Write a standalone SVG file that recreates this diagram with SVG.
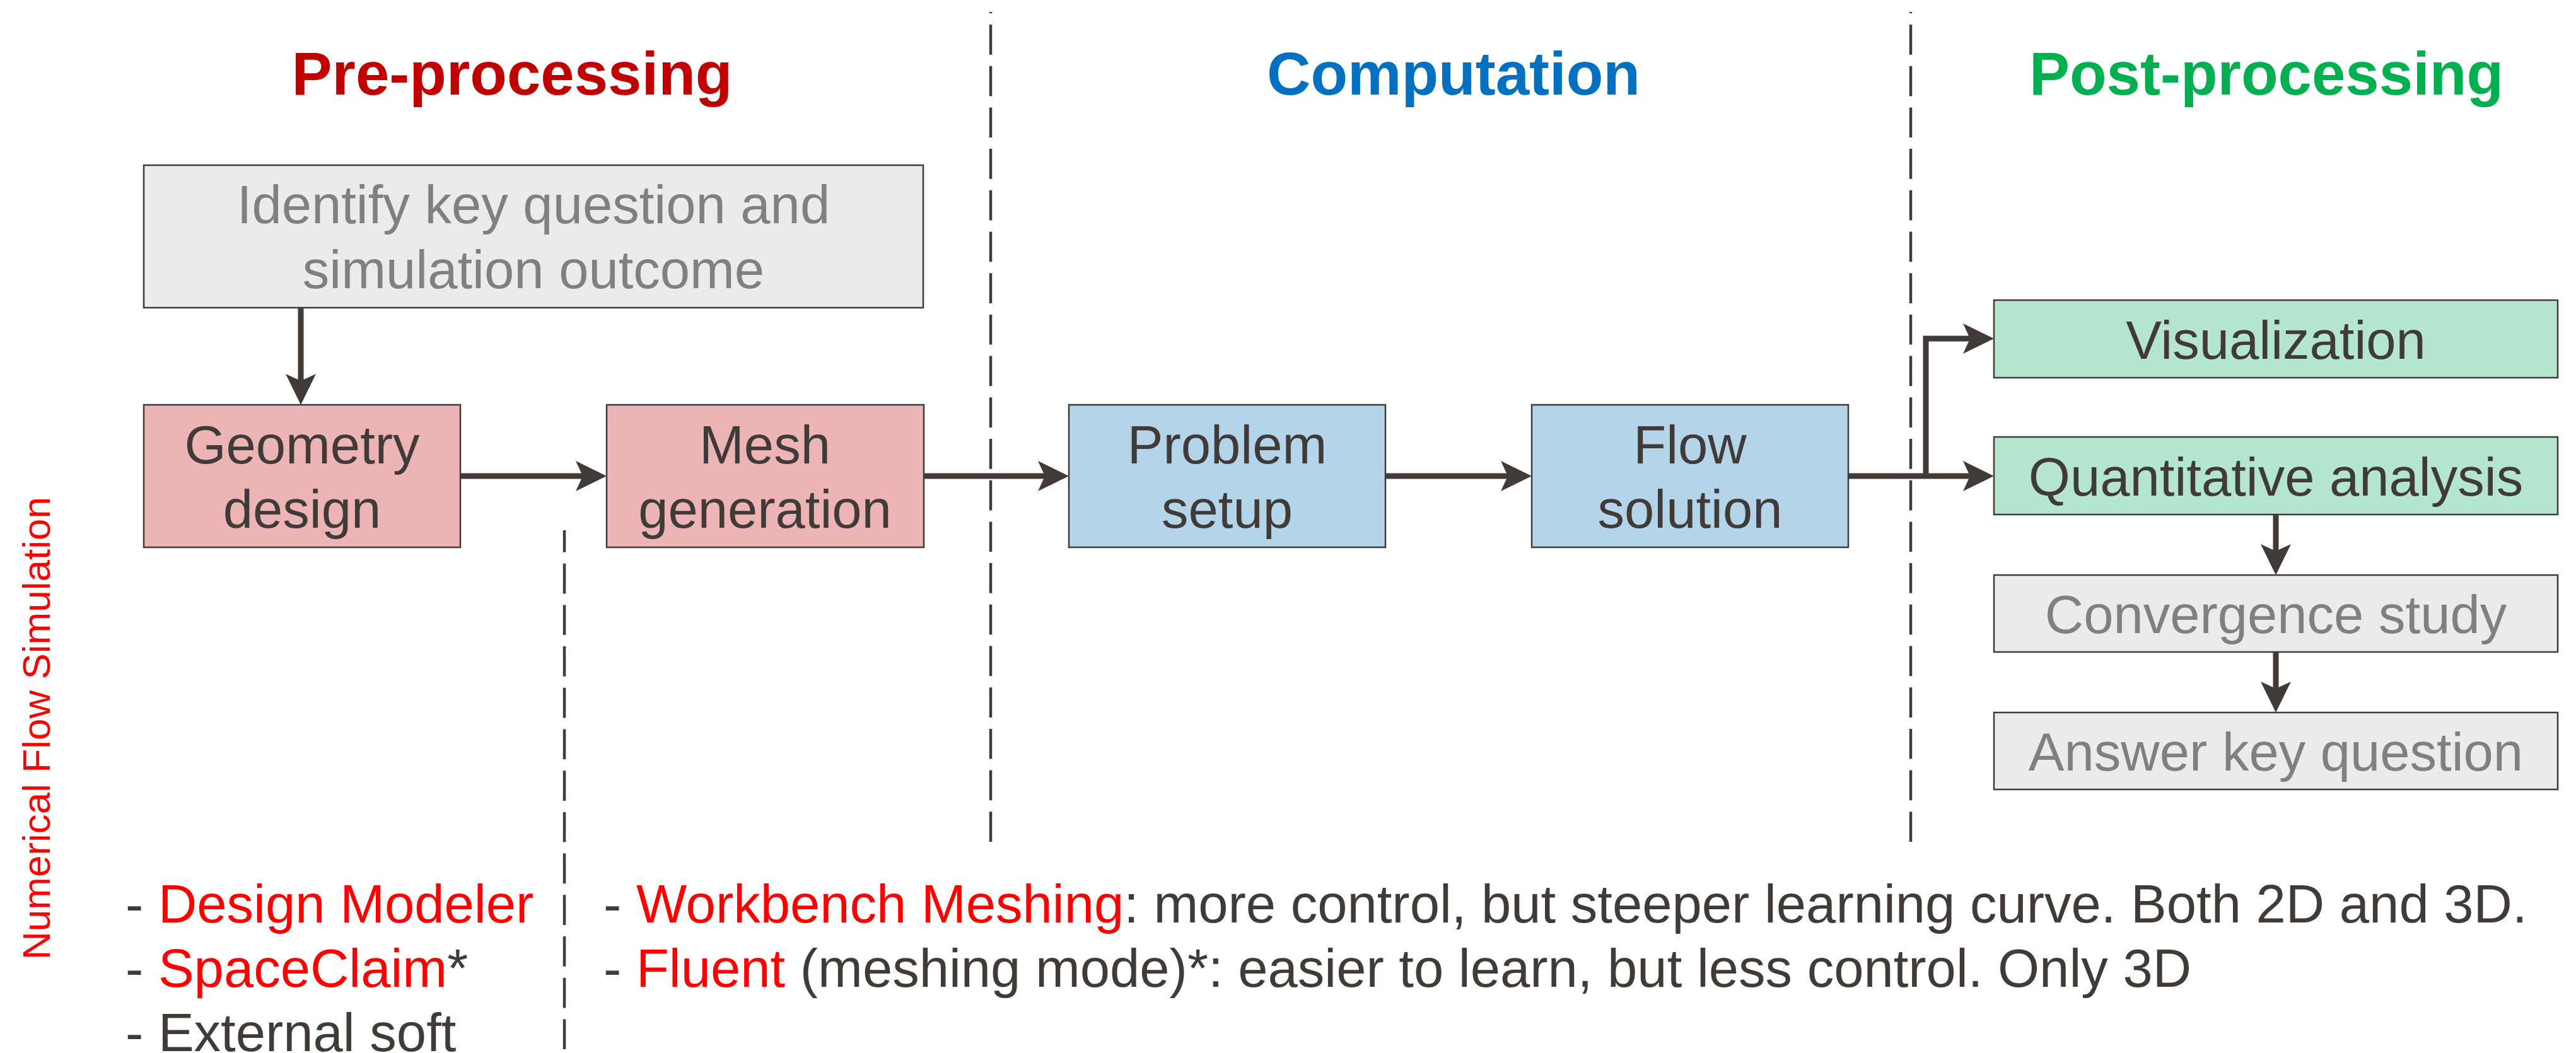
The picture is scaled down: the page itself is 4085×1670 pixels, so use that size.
<svg xmlns="http://www.w3.org/2000/svg" width="4085" height="1670" viewBox="0 0 4085 1670">
  <style>
    .bg { fill: #ffffff; }
    .box { stroke: #403b38; stroke-width: 2.5; }
    .pre { fill: #ecb4b5; }
    .comp { fill: #b4d4ea; }
    .post { fill: #b4e6cf; }
    .aux { fill: #ebebeb; }
    text { font-family: "Liberation Sans", Arial, sans-serif; }
    .lbl { font-size: 85px; fill: #403b38; text-anchor: middle; }
    .lbl-aux { font-size: 85px; fill: #808080; text-anchor: middle; }
    .title { font-size: 96px; font-weight: bold; text-anchor: middle; }
    .note { font-size: 85px; fill: #403b38; }
    .red { fill: #ff0000; }
    .divider { stroke: #403b38; stroke-width: 4.5; fill: none; stroke-dasharray: 47.7 18; }
    .conn { stroke: #403b38; stroke-width: 9; fill: none; stroke-linejoin: miter; marker-end: url(#arrow); }
  </style>
  <defs>
    <marker id="arrow" viewBox="0 0 49 48" refX="15" refY="24" markerWidth="49" markerHeight="48" markerUnits="userSpaceOnUse" orient="auto">
      <path d="M0,0 L49,24 L0,48 L11,24 Z" fill="#403b38"/>
    </marker>
  </defs>

  <rect class="bg" x="0" y="0" width="4085" height="1670"/>

  <!-- phase headings -->
  <g id="headings">
    <text class="title" x="812" y="150" fill="#c00000">Pre-processing</text>
    <text class="title" x="2305" y="150" fill="#0070c0">Computation</text>
    <text class="title" x="3594" y="150" fill="#00b050">Post-processing</text>
  </g>

  <!-- side caption -->
  <text id="side-caption" transform="translate(79,1155) rotate(-90)" font-size="62" fill="#ff0000" text-anchor="middle">Numerical Flow Simulation</text>

  <!-- phase dividers -->
  <g id="dividers">
    <line class="divider" x1="1571" y1="19" x2="1571" y2="1340" stroke-dashoffset="45.7"/>
    <line class="divider" x1="3030" y1="19" x2="3030" y2="1340" stroke-dashoffset="45.7"/>
    <line class="divider" x1="895" y1="841" x2="895" y2="1670" stroke-dashoffset="13"/>
  </g>

  <!-- connectors -->
  <g id="connectors">
    <line class="conn" x1="477" y1="488" x2="477" y2="608"/>
    <line class="conn" x1="730" y1="755" x2="928" y2="755"/>
    <line class="conn" x1="1465" y1="755" x2="1661" y2="755"/>
    <line class="conn" x1="2197" y1="755" x2="2395" y2="755"/>
    <line class="conn" x1="2931" y1="755" x2="3128" y2="755"/>
    <path class="conn" d="M3054,755 V537 H3128"/>
    <line class="conn" x1="3609" y1="816" x2="3609" y2="878"/>
    <line class="conn" x1="3609" y1="1034" x2="3609" y2="1096"/>
  </g>

  <!-- nodes -->
  <g id="node-identify">
    <rect class="box aux" x="228" y="262" width="1236" height="226"/>
    <text class="lbl-aux" x="846" y="354">Identify key question and</text>
    <text class="lbl-aux" x="846" y="457">simulation outcome</text>
  </g>
  <g id="node-geometry">
    <rect class="box pre" x="228" y="642" width="502" height="226"/>
    <text class="lbl" x="479" y="735">Geometry</text>
    <text class="lbl" x="479" y="837">design</text>
  </g>
  <g id="node-mesh">
    <rect class="box pre" x="962" y="642" width="503" height="226"/>
    <text class="lbl" x="1213" y="735">Mesh</text>
    <text class="lbl" x="1213" y="837">generation</text>
  </g>
  <g id="node-setup">
    <rect class="box comp" x="1695" y="642" width="502" height="226"/>
    <text class="lbl" x="1946" y="735">Problem</text>
    <text class="lbl" x="1946" y="837">setup</text>
  </g>
  <g id="node-solution">
    <rect class="box comp" x="2429" y="642" width="502" height="226"/>
    <text class="lbl" x="2680" y="735">Flow</text>
    <text class="lbl" x="2680" y="837">solution</text>
  </g>
  <g id="node-visualization">
    <rect class="box post" x="3162" y="476" width="894" height="123"/>
    <text class="lbl" x="3609" y="569">Visualization</text>
  </g>
  <g id="node-quantitative">
    <rect class="box post" x="3162" y="693" width="894" height="123"/>
    <text class="lbl" x="3609" y="786">Quantitative analysis</text>
  </g>
  <g id="node-convergence">
    <rect class="box aux" x="3162" y="912" width="894" height="122"/>
    <text class="lbl-aux" x="3609" y="1004">Convergence study</text>
  </g>
  <g id="node-answer">
    <rect class="box aux" x="3162" y="1130" width="894" height="122"/>
    <text class="lbl-aux" x="3609" y="1222">Answer key question</text>
  </g>

  <!-- tool notes -->
  <g id="notes-geometry">
    <text class="note" x="199" y="1463">- <tspan class="red">Design Modeler</tspan></text>
    <text class="note" x="199" y="1565">- <tspan class="red">SpaceClaim</tspan>*</text>
    <text class="note" x="199" y="1667">- External soft</text>
  </g>
  <g id="notes-mesh">
    <text class="note" x="957" y="1463">- <tspan class="red">Workbench Meshing</tspan>: more control, but steeper learning curve. Both 2D and 3D.</text>
    <text class="note" x="957" y="1565">- <tspan class="red">Fluent</tspan> (meshing mode)*: easier to learn, but less control. Only 3D</text>
  </g>
</svg>
